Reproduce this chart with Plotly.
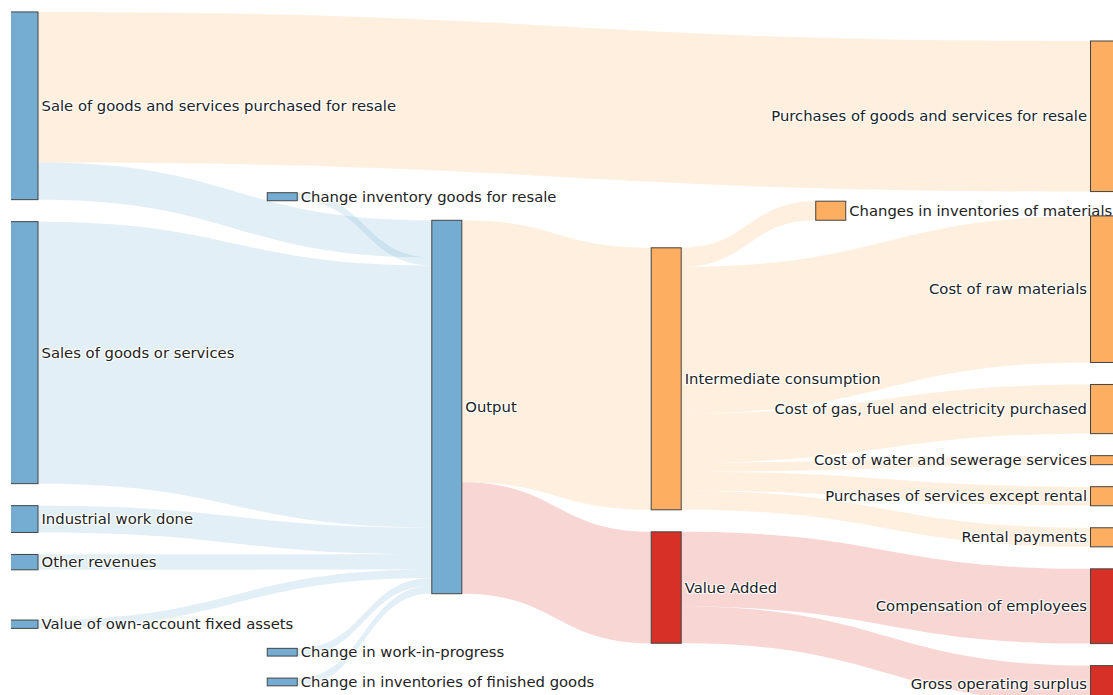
import plotly.graph_objects as go

# ---- data ----
labels = [
    "Sale of goods and services purchased for resale",
    "Sales of goods or services",
    "Industrial work done",
    "Other revenues",
    "Value of own-account fixed assets",
    "Change inventory goods for resale",
    "Change in work-in-progress",
    "Change in inventories of finished goods",
    "Output",
    "Intermediate consumption",
    "Value Added",
    "Purchases of goods and services for resale",
    "Changes in inventories of materials",
    "Cost of raw materials",
    "Cost of gas, fuel and electricity purchased",
    "Cost of water and sewerage services",
    "Purchases of services except rental",
    "Rental payments",
    "Compensation of employees",
    "Gross operating surplus",
]

sources = [0, 0, 5, 1, 2, 3, 4, 6, 7, 8, 8, 9, 9, 9, 9, 9, 9, 10, 10]
targets = [11, 8, 8, 8, 8, 8, 8, 8, 8, 9, 10, 12, 13, 14, 15, 16, 17, 18, 19]
values = [150, 37, 8, 261, 26.7, 15.3, 8.3, 7.7, 7.7, 261, 111, 19, 146, 49, 9, 19, 19, 74.5, 36.5]

# ---- layout (node placement, styles) ----
X0, X1, X2, X3, X4, X5 = 0.010811, 0.24437, 0.39261, 0.59027, 0.73851, 0.98604
node_x = [X0, X0, X0, X0, X0, X1, X1, X1,
          X2, X3, X3, X5, X4, X5, X5, X5, X5, X5, X5, X5]
node_y = [0.1397, 0.4909, 0.7281, 0.7896, 0.8803, 0.2696, 0.9203, 0.9627,
          0.5700, 0.5297, 0.8279, 0.1547, 0.2896, 0.4017, 0.5721, 0.6446,
          0.6946, 0.7531, 0.8517, 0.9621]

BLUE = (116, 173, 209)
ORANGE = (253, 174, 97)
RED = (215, 48, 39)
node_group = [BLUE] * 9 + [ORANGE, RED] + [ORANGE] * 7 + [RED, RED]


def rgb(c, a=None):
    if a is None:
        return "rgb(%d,%d,%d)" % c
    return "rgba(%d,%d,%d,%s)" % (c + (a,))


node_colors = [rgb(c) for c in node_group]
link_colors = [rgb(node_group[t], 0.2) for t in targets]

fig = go.Figure(go.Sankey(
    arrangement="snap",
    node=dict(
        label=labels,
        x=node_x,
        y=node_y,
        pad=22,
        thickness=30,
        color=node_colors,
        line=dict(color="#444", width=1),
    ),
    link=dict(source=sources, target=targets, value=values, color=link_colors),
    textfont=dict(family="DejaVu Sans", size=14.8, color="#222"),
))

fig.update_layout(
    width=1110,
    height=700,
    margin=dict(l=0, r=0, t=0, b=0),
    paper_bgcolor="white",
)

fig.write_html(
    "out.html",
    post_script="document.body.style.margin='8px 0px 8px 11px';",
)
